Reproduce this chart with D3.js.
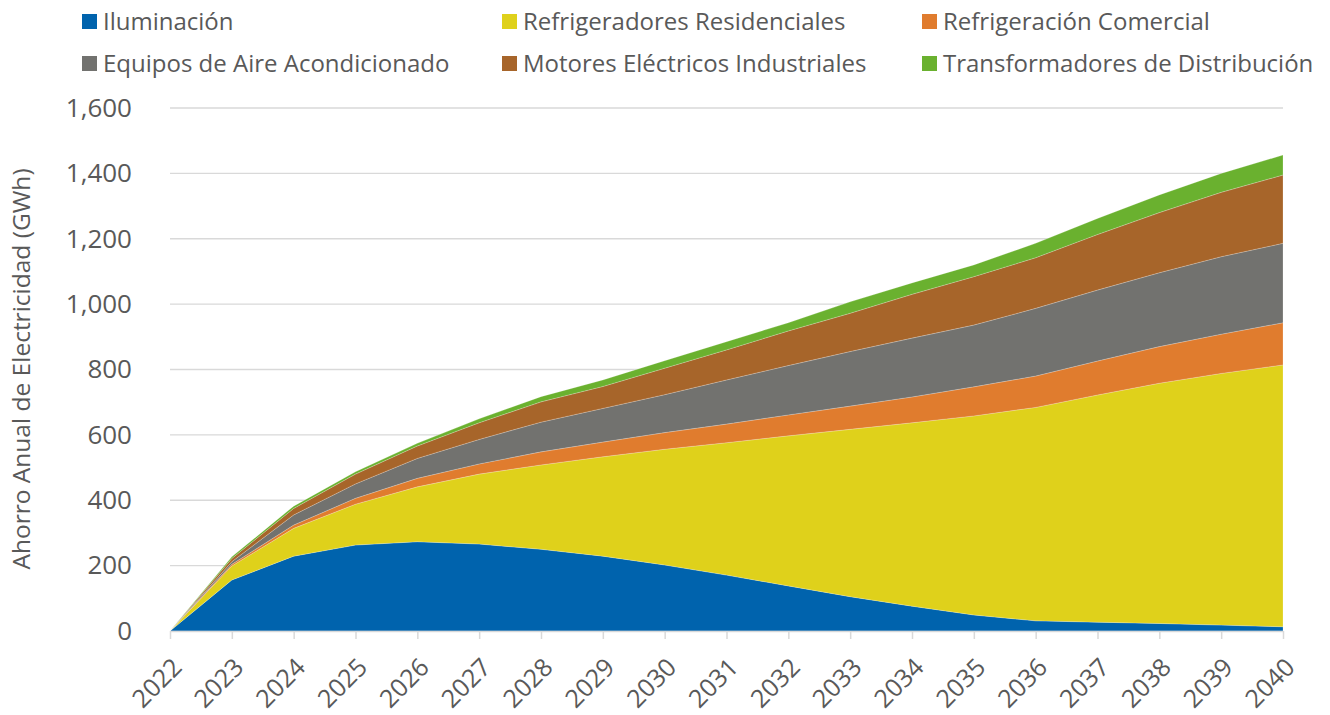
<!DOCTYPE html>
<html>
<head>
<meta charset="utf-8">
<script src="https://cdn.jsdelivr.net/npm/d3@7"></script>
<style>
  body { margin: 0; background: #fff; }
  text { font-family: "Open Sans", "Noto Sans", sans-serif; fill: #595959; }
</style>
</head>
<body>
<svg id="chart" width="1330" height="715"></svg>
<script>
// years and series (GWh)
let years = [2022, 2023, 2024, 2025, 2026, 2027, 2028, 2029, 2030, 2031, 2032, 2033, 2034, 2035, 2036, 2037, 2038, 2039, 2040]

let iluminacion     = [0, 156, 229, 263, 273, 266, 250, 229, 202, 171, 138, 105, 76, 49, 31, 27, 23, 18, 13]
let refrigResid     = [0, 43, 85, 125, 168, 214, 258, 304, 354, 405, 459, 512, 561, 609, 653, 695, 735, 770, 801]
let refrigComercial = [0, 5, 10, 18, 26, 31, 40, 45, 51, 57, 64, 71, 79, 89, 96, 104, 112, 120, 129]
let aireAcond       = [0, 8, 31, 44, 61, 75, 91, 103, 116, 135, 151, 167, 180, 189, 207, 217, 226, 237, 243]
let motores         = [0, 10, 20, 30, 38, 51, 62, 67, 81, 92, 106, 117, 134, 148, 155, 170, 184, 197, 209]
let transformadores = [0, 5, 7, 7, 8, 12, 16, 20, 23, 25, 25, 35, 35, 36, 44, 49, 54, 58, 61]

let seriesNames = ['Iluminación', 'Refrigeradores Residenciales', 'Refrigeración Comercial',
	'Equipos de Aire Acondicionado', 'Motores Eléctricos Industriales', 'Transformadores de Distribución']
let seriesValues = [iluminacion, refrigResid, refrigComercial, aireAcond, motores, transformadores]
let colors = ['#0063ad', '#dfd11b', '#e07c2e', '#72726f', '#a7652a', '#6ab12f']

let yTicks = [0, 200, 400, 600, 800, 1000, 1200, 1400, 1600]

let svg = d3.select('#chart')

let plotLeft = 170, plotRight = 1283, plotTop = 108, plotBottom = 631

let x = d3.scaleLinear().domain([2022, 2040]).range([plotLeft, plotRight])
let y = d3.scaleLinear().domain([0, 1600]).range([plotBottom, plotTop])

// build rows for d3.stack
let rows = years.map(function(yr, i){
	let row = {year: yr}
	seriesNames.forEach(function(name, s){
		row[name] = seriesValues[s][i]
	})
	return row
})

let stacked = d3.stack().keys(seriesNames)(rows)

// gridlines
svg.append('g')
	.selectAll('line')
	.data(yTicks.slice(1))
	.enter()
	.append('line')
	.attr('x1', plotLeft)
	.attr('x2', plotRight)
	.attr('y1', d => y(d))
	.attr('y2', d => y(d))
	.attr('stroke', '#d9d9d9')
	.attr('stroke-width', 1.3)

let area = d3.area()
	.x(d => x(d.data.year))
	.y0(d => y(d[0]))
	.y1(d => y(d[1]))

svg.append('g')
	.selectAll('path')
	.data(stacked)
	.enter()
	.append('path')
	.attr('d', area)
	.attr('fill', (d, i) => colors[i])
	.attr('stroke', 'rgba(255,255,255,0.35)')
	.attr('stroke-width', 0.6)

// y axis labels
let yAxis = svg.append('g')
	.attr('transform', 'translate(' + plotLeft + ',0)')
	.call(d3.axisLeft(y).tickValues(yTicks).tickFormat(d3.format(',')).tickSize(0).tickPadding(38))

yAxis.select('.domain').remove()
yAxis.selectAll('text')
	.style('font-size', '26px')
	.attr('fill', '#595959')

// x axis
let xAxis = svg.append('g')
	.attr('transform', 'translate(0,' + plotBottom + ')')
	.call(d3.axisBottom(x).tickValues(years).tickFormat(d3.format('d')).tickSize(8).tickSizeOuter(0))

xAxis.select('.domain').attr('stroke', '#d9d9d9').attr('stroke-width', 1.5)
xAxis.selectAll('line').attr('stroke', '#d9d9d9').attr('stroke-width', 1.5)
xAxis.selectAll('text')
	.style('font-size', '25px')
	.attr('fill', '#595959')
	.attr('text-anchor', 'end')
	.attr('dy', 0)
	.attr('transform', 'translate(5,30) rotate(-45)')

// y axis title
svg.append('text')
	.attr('transform', 'translate(30,369) rotate(-90)')
	.attr('text-anchor', 'middle')
	.style('font-size', '24.5px')
	.text('Ahorro Anual de Electricidad (GWh)')

// legend
let legend = svg.append('g')
	.selectAll('g')
	.data(seriesNames)
	.enter()
	.append('g')
	.attr('transform', function(d, i){
		return 'translate(' + (82 + (i % 3) * 420) + ',' + (14 + Math.floor(i / 3) * 42) + ')'
	})

legend.append('rect')
	.attr('width', 15)
	.attr('height', 15)
	.attr('fill', (d, i) => colors[i])

legend.append('text')
	.attr('x', 21)
	.attr('y', 15.5)
	.style('font-size', '24px')
	.text(d => d)
</script>
</body>
</html>
